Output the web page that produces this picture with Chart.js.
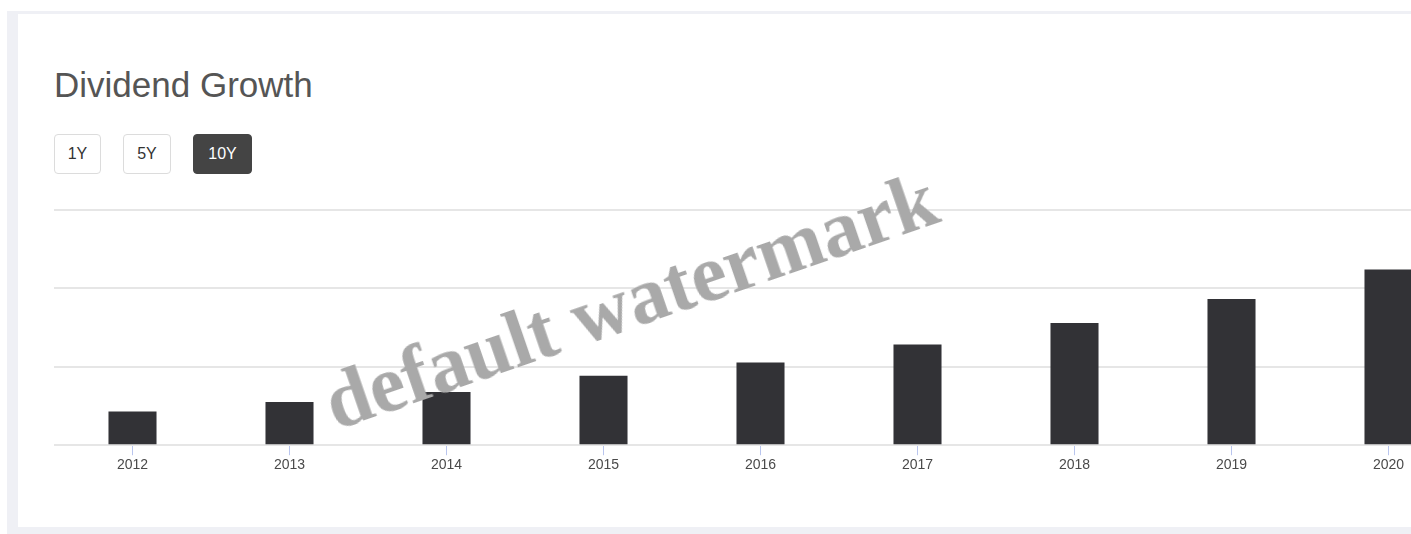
<!DOCTYPE html>
<html>
<head>
<meta charset="utf-8">
<script src="https://cdn.jsdelivr.net/npm/chart.js@4/dist/chart.umd.min.js"></script>
<style>
  html, body { margin: 0; padding: 0; background: #fff; overflow: hidden; width: 1411px; height: 534px; }
  body { position: relative; font-family: "Liberation Sans", Arial, sans-serif; }
  .outer { position: absolute; left: 7px; top: 11px; width: 1500px; height: 540px; background: #eff0f5; }
  .card { position: absolute; left: 18px; top: 14px; width: 1500px; height: 513px; background: #fff; }
  h2 { position: absolute; left: 54px; top: 65px; margin: 0; font-size: 35px; font-weight: normal; color: #555; line-height: 40px; }
  .btn { position: absolute; top: 134px; height: 38px; border: 1px solid #dcdcdc; border-radius: 4px;
         font-size: 16px; line-height: 38px; text-align: center; color: #333; background: #fff; }
  .btn.active { background: #444; border-color: #444; color: #fff; }
  #chartContainer { position: absolute; left: 54px; top: 200px; width: 1413px; height: 276px; }
  .wm { position: absolute; left: 336px; top: 363px; font-family: "Liberation Serif", "Times New Roman", serif;
        font-weight: bold; font-size: 80px; line-height: 1; color: #a9a9a9; white-space: nowrap;
        transform-origin: 0 68px; transform: rotate(-19deg); pointer-events: none; }
</style>
</head>
<body>
<div class="outer"></div>
<div class="card"></div>
<h2>Dividend Growth</h2>
<div class="btn" style="left:54px;width:45px;">1Y</div>
<div class="btn" style="left:123px;width:46px;">5Y</div>
<div class="btn active" style="left:193px;width:57px;">10Y</div>
<div id="chartContainer"><canvas id="chart"></canvas></div>
<div class="wm">default watermark</div>
<script>
const years = ["2012", "2013", "2014", "2015", "2016", "2017", "2018", "2019", "2020"]
const dividends = [0.43, 0.55, 0.68, 0.885, 1.055, 1.285, 1.56, 1.865, 2.24]
const yMax = 3

let chart = new Chart('chart', {
  type: "bar",
  data: {
    labels: years,
    datasets: [{
      label: "Dividend",
      data: dividends,
      backgroundColor: "#323236",
      categoryPercentage: 1,
      barPercentage: 0.306
    }]
  },
  options: {
    responsive: true,
    maintainAspectRatio: false,
    animation: false,
    layout: { padding: { top: 10, left: 0, right: 0 } },
    plugins: { legend: { display: false }, tooltip: { enabled: false } },
    scales: {
      x: {
        grid: { drawOnChartArea: false, offset: false, color: "#b9c5ee", tickLength: 10 },
        border: { display: false },
        ticks: { color: "#4a4a4a", font: { size: 14, family: "Liberation Sans" }, padding: 2 }
      },
      y: {
        min: 0,
        max: yMax,
        ticks: { display: false, stepSize: 1 },
        grid: { color: "#e6e6e6", drawTicks: false, lineWidth: 2 },
        border: { display: false }
      }
    }
  }
})
</script>
</body>
</html>
